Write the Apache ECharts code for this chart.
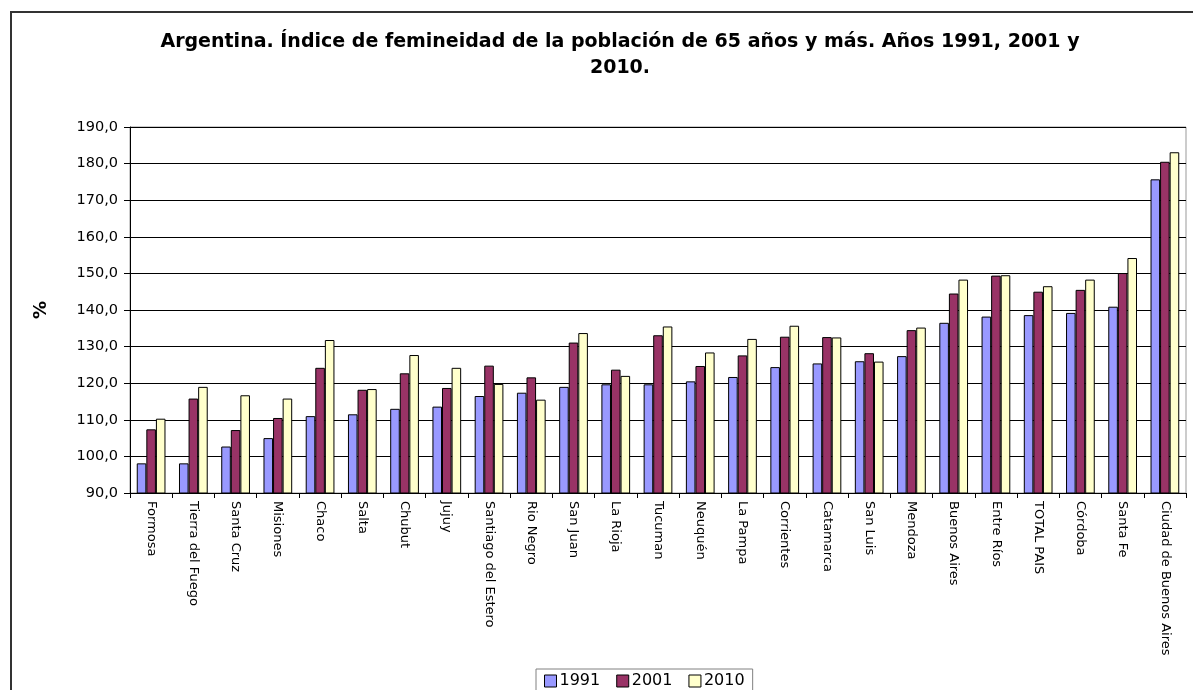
<!DOCTYPE html>
<html>
<head>
<meta charset="utf-8">
<script src="https://cdn.jsdelivr.net/npm/echarts@6/dist/echarts.min.js"></script>
<style>
  html, body { margin: 0; padding: 0; background: #fff; }
  #chart { width: 1193px; height: 690px; }
  #frame { position: absolute; left: 10px; top: 11px; width: 1200px; height: 700px; border: 2px solid #333; pointer-events: none; }
</style>
</head>
<body>
<div id="chart"></div>
<div id="frame"></div>
<script>
const provincias = ['Formosa', 'Tierra del Fuego', 'Santa Cruz', 'Misiones', 'Chaco', 'Salta', 'Chubut', 'Jujuy',
    'Santiago del Estero', 'Rio Negro', 'San Juan', 'La Rioja', 'Tucuman', 'Neuquén', 'La Pampa', 'Corrientes',
    'Catamarca', 'San Luis', 'Mendoza', 'Buenos Aires', 'Entre Ríos', 'TOTAL PAIS', 'Córdoba', 'Santa Fe',
    'Ciudad de Buenos Aires'];
const anios = ['1991', '2001', '2010'];
const datos1991 = [98.1, 98.1, 102.7, 105.0, 111.0, 111.5, 113.0, 113.6, 116.5, 117.4, 119.0, 119.7, 119.7,
    120.5, 121.7, 124.4, 125.4, 126.0, 127.4, 136.5, 138.2, 138.6, 139.2, 140.9, 175.7];
const datos2001 = [107.4, 115.8, 107.2, 110.5, 124.2, 118.2, 122.7, 118.7, 124.8, 121.6, 131.1, 123.7, 133.1,
    124.7, 127.6, 132.7, 132.6, 128.2, 134.5, 144.5, 149.4, 145.0, 145.5, 150.1, 180.5];
const datos2010 = [110.3, 119.0, 116.7, 115.8, 131.8, 118.4, 127.7, 124.2, 119.8, 115.5, 133.7, 122.0, 135.5,
    128.4, 132.1, 135.7, 132.5, 125.9, 135.2, 148.3, 149.5, 146.5, 148.3, 154.2, 183.1];
const colores = ['#9999FF', '#993366', '#FFFFCC'];

const chart = echarts.init(document.getElementById('chart'));

// una serie por cada año
const series = [datos1991, datos2001, datos2010].map((d, i) => ({
    name: anios[i],
    type: 'bar',
    data: d,
    barGap: '0%',
    barCategoryGap: '32%',
    itemStyle: { color: colores[i], borderColor: '#000', borderWidth: 1 },
}));

chart.setOption({
    animation: false,
    textStyle: { fontFamily: '"DejaVu Sans", sans-serif' },
    title: {
        text: 'Argentina. Índice de femineidad de la población de 65 años y más. Años 1991, 2001 y\n2010.',
        left: 615,
        top: 24,
        textAlign: 'center',
        textStyle: { fontSize: 19, fontWeight: 'bold', color: '#000', lineHeight: 26 },
    },
    legend: {
        bottom: -3,
        left: 536,
        icon: 'rect',
        itemWidth: 12,
        itemHeight: 12,
        itemGap: 16,
        padding: [4, 8, 4, 8],
        borderColor: '#808080',
        borderWidth: 1,
        textStyle: { fontSize: 16, color: '#000', padding: [0, 0, 0, -2] },
        itemStyle: { borderColor: '#000', borderWidth: 1 },
        data: anios,
    },
    grid: { left: 130, right: 7, top: 127, bottom: 197, show: true, borderColor: '#999', borderWidth: 1 },
    xAxis: {
        type: 'category',
        data: provincias,
        axisLine: { lineStyle: { color: '#000' } },
        axisTick: { show: true, length: 5, lineStyle: { color: '#000' } },
        axisLabel: { rotate: -90, fontSize: 13, color: '#000', margin: 8, interval: 0 },
    },
    yAxis: {
        type: 'value',
        min: 90,
        max: 190,
        interval: 10,
        name: '%',
        nameLocation: 'middle',
        nameGap: 80,
        nameTextStyle: { fontSize: 18, fontWeight: 'bold', color: '#000' },
        axisLine: { show: true, lineStyle: { color: '#000' } },
        axisTick: { show: true, inside: false, length: 6, lineStyle: { color: '#000' } },
        axisLabel: { fontSize: 14.5, color: '#000', margin: 12, formatter: (v) => v.toFixed(1).replace('.', ',') },
        splitLine: { lineStyle: { color: '#000' } },
    },
    series: series,
});
</script>
</body>
</html>
